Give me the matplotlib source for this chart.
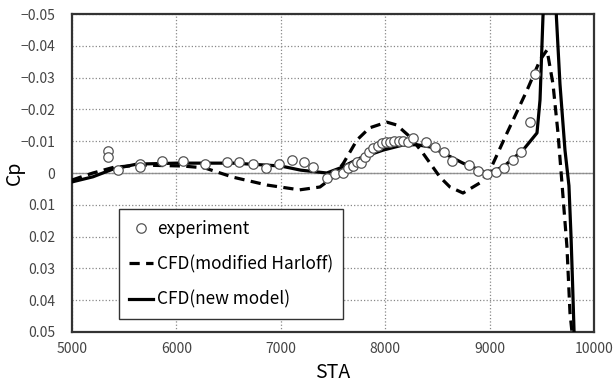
import matplotlib
matplotlib.use("Agg")
import matplotlib.pyplot as plt
from matplotlib.ticker import FuncFormatter

plt.rcParams['font.family'] = ['Noto Sans CJK JP', 'DejaVu Sans']

# experiment
sta_exp = [5345, 5345, 5441, 5651, 5651, 5862, 6063, 6274, 6485, 6600, 6734, 6858,
           6983, 7107, 7222, 7308, 7443, 7519, 7596, 7644, 7692, 7730, 7768, 7807,
           7845, 7883, 7931, 7969, 8008, 8046, 8084, 8132, 8170, 8218, 8266, 8391,
           8477, 8563, 8640, 8803, 8889, 8975, 9061, 9138, 9224, 9301, 9387, 9435]
cp_exp = [-0.0069, -0.0050, -0.0009, -0.0028, -0.0019, -0.0038, -0.0038, -0.0028,
          -0.0035, -0.0035, -0.0028, -0.0016, -0.0028, -0.0041, -0.0035, -0.0019,
          0.0016, 0.0003, 0.0000, -0.0016, -0.0022, -0.0035, -0.0031, -0.0050,
          -0.0066, -0.0079, -0.0085, -0.0094, -0.0097, -0.0097, -0.0101, -0.0101,
          -0.0101, -0.0097, -0.0110, -0.0097, -0.0082, -0.0066, -0.0038, -0.0025,
          -0.0006, 0.0003, -0.0003, -0.0016, -0.0041, -0.0066, -0.0160, -0.0311]

# CFD (modified Harloff)
sta_harloff = [5000, 5200, 5400, 5650, 6060, 6270, 6540, 6870, 7180, 7375, 7500,
               7600, 7730, 7850, 8015, 8110, 8240, 8360, 8525, 8620, 8745, 8908,
               9004, 9167, 9358, 9483, 9550, 9607, 9655, 9695, 9741, 9770, 9789]
cp_harloff = [0.0022, 0.0000, -0.0018, -0.0025, -0.0022, -0.0016, 0.0013, 0.0038,
              0.0053, 0.0044, 0.0013, -0.0031, -0.0104, -0.0142, -0.0160, -0.0151,
              -0.0113, -0.0063, 0.0013, 0.0044, 0.0063, 0.0031, -0.0009, -0.0126,
              -0.0260, -0.0355, -0.0387, -0.0280, -0.0126, 0.0040, 0.0233, 0.0440,
              0.0500]

# CFD (new model)
sta_new = [5000, 5200, 5390, 5620, 6000, 6550, 7000, 7190, 7440, 7570, 7760, 7980,
           8170, 8300, 8430, 8500, 8745, 8975, 9130, 9320, 9454, 9483, 9511, 9560,
           9610, 9640, 9674, 9722, 9760, 9780, 9795, 9810]
cp_new = [0.0028, 0.0012, -0.0012, -0.0028, -0.0031, -0.0031, -0.0022, -0.0009,
          0.0000, -0.0016, -0.0047, -0.0072, -0.0088, -0.0089, -0.0082, -0.0072,
          -0.0031, 0.0000, -0.0019, -0.0072, -0.0126, -0.0230, -0.0490, -0.0800,
          -0.0800, -0.0490, -0.0280, -0.0072, 0.0040, 0.0200, 0.0350, 0.0510]

fig = plt.figure(figsize=(6.13, 3.83), dpi=100)
ax = fig.add_axes([0.1175, 0.1332, 0.8515, 0.8302])

ax.grid(True, color='#888888', linestyle=':', linewidth=0.9)
ax.axhline(0, color='#999999', linewidth=1.0, zorder=1)

ax.plot(sta_harloff, cp_harloff, color='black', lw=2.3, dashes=(3.2, 2.0),
        label='CFD(modified Harloff)', zorder=3)
ax.plot(sta_new, cp_new, color='black', lw=2.3, label='CFD(new model)', zorder=3)
ax.plot(sta_exp, cp_exp, 'o', ms=6.8, mfc='white', mec='#555555', mew=0.9,
        label='experiment', zorder=4)

ax.set_xlim(5000, 10000)
ax.set_ylim(0.05, -0.05)
ax.set_xticks([5000, 6000, 7000, 8000, 9000, 10000])
ax.set_yticks([-0.05, -0.04, -0.03, -0.02, -0.01, 0, 0.01, 0.02, 0.03, 0.04, 0.05])
ax.yaxis.set_major_formatter(FuncFormatter(
    lambda v, p: '0' if abs(v) < 1e-9 else ('%.2f' % v).replace('-', '\u2212')))
ax.tick_params(length=0, labelsize=10, labelcolor='#444444')
ax.tick_params(axis='y', pad=12)
ax.tick_params(axis='x', pad=7)

for s in ax.spines.values():
    s.set_color('#333333')
    s.set_linewidth(1.6)

ax.set_xlabel('STA', fontsize=14)
ax.set_ylabel('Cp', fontsize=14)
ax.xaxis.set_label_coords(0.5, -0.095)
ax.yaxis.set_label_coords(-0.09, 0.5)

h, l = ax.get_legend_handles_labels()
order = [2, 0, 1]
leg = ax.legend([h[i] for i in order], [l[i] for i in order],
                loc='lower left', bbox_to_anchor=(0.09, 0.041), fontsize=12.4,
                fancybox=False, framealpha=1, edgecolor='#333333',
                labelspacing=1.0, handlelength=1.4, handletextpad=0.2,
                borderpad=0.6, borderaxespad=0)
leg.get_frame().set_linewidth(1.0)

fig.savefig('out.png', dpi=100)
